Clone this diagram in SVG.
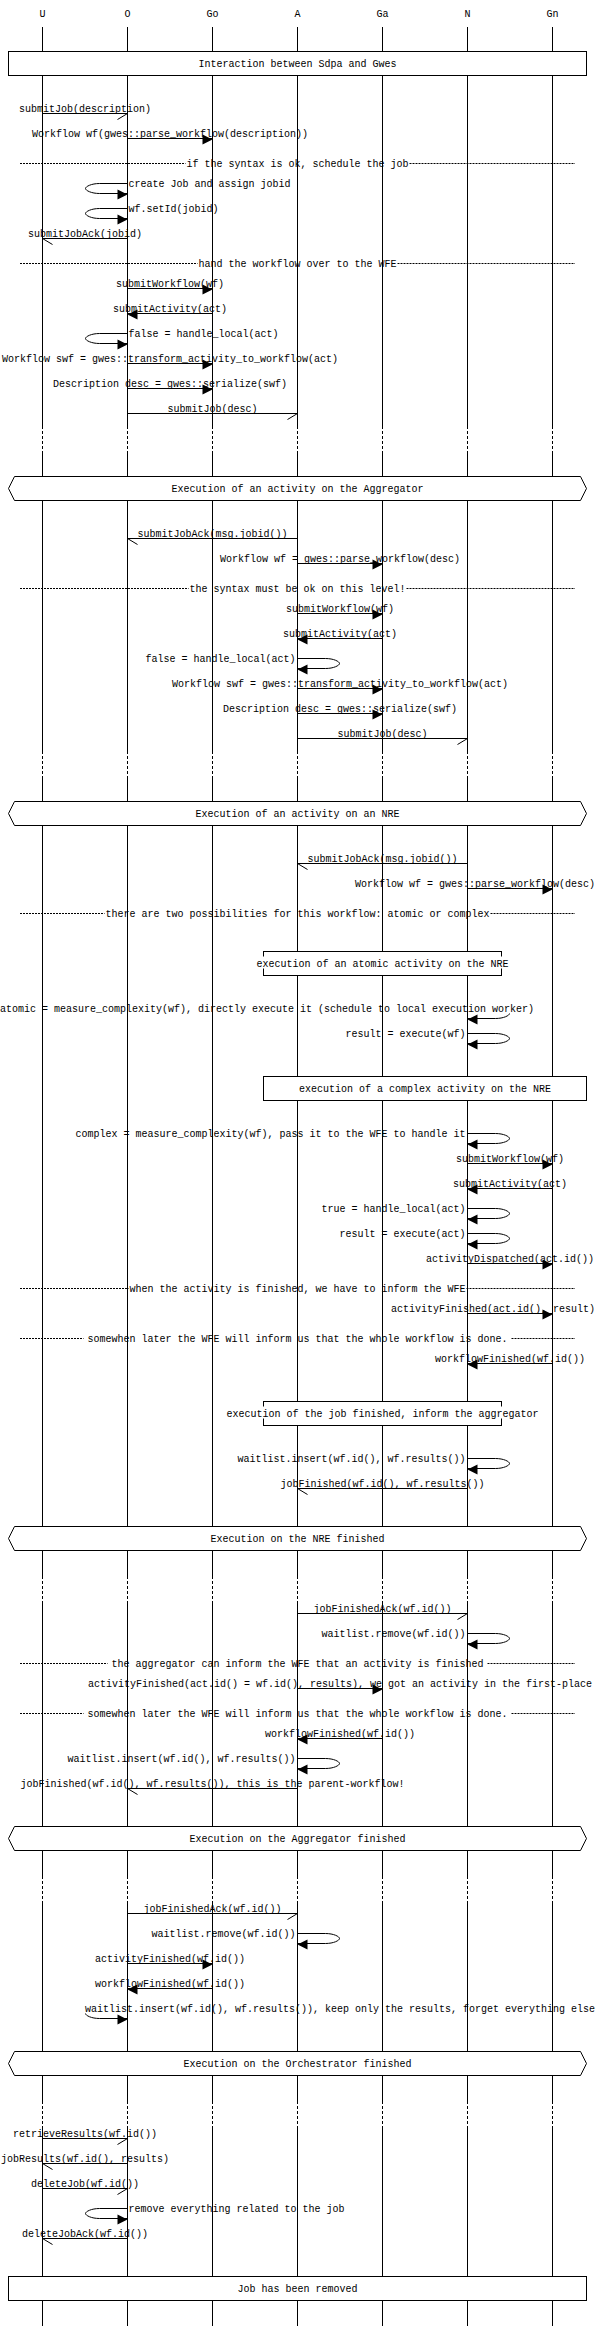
<svg xmlns="http://www.w3.org/2000/svg" width="595" height="2326" viewBox="0 0 595 2326">
<style>
.t{font-family:"Liberation Mono","DejaVu Sans Mono",monospace;font-size:10px;fill:#000}
.m{text-anchor:middle}
.e{text-anchor:end}
.ln{fill:none;stroke:#000;stroke-width:1}
.dl{fill:none;stroke:#000;stroke-width:1;stroke-dasharray:3 2}
.sp{fill:none;stroke:#000;stroke-width:1;stroke-dasharray:2 1}
.bx{fill:#fff;stroke:#000;stroke-width:1}
.hd{fill:#000;stroke:none}
.bg{fill:#fff;stroke:none}
</style>
<defs>
<path id="hr" class="hd" d="M0,1 L-10,-4 L-10,6 Z"/>
<path id="hl" class="hd" d="M0,1 L10,-4 L10,6 Z"/>
<path id="br" class="ln" d="M0,0 L-10,6"/>
<path id="bl" class="ln" d="M0,0 L10,6"/>
<path id="loopR" class="ln" d="M0,-5 H28 C36,-5 42,-2 42,0 C42,2 36,5 28,5 H0"/>
<path id="loopL" class="ln" d="M0,-5 H-28 C-36,-5 -42,-2 -42,0 C-42,2 -36,5 -28,5 H0"/>
<path id="loopRh" class="ln" d="M42,0 C42,2 36,5 28,5 H0"/>
<path id="loopLh" class="ln" d="M-42,0 C-42,2 -36,5 -28,5 H0"/>
</defs>
<rect x="0" y="0" width="595" height="2326" fill="#fff"/>

<g id="lifelines">
<g id="U"><text class="t m" x="42.5" y="17">U</text><path class="ln" d="M42.5,27 V426 M42.5,451 V751 M42.5,776 V1576 M42.5,1601 V1876 M42.5,1901 V2101 M42.5,2126 V2326"/><path class="dl" d="M42.5,426 V451 M42.5,751 V776 M42.5,1576 V1601 M42.5,1876 V1901 M42.5,2101 V2126"/></g>
<g id="O"><text class="t m" x="127.5" y="17">O</text><path class="ln" d="M127.5,27 V426 M127.5,451 V751 M127.5,776 V1576 M127.5,1601 V1876 M127.5,1901 V2101 M127.5,2126 V2326"/><path class="dl" d="M127.5,426 V451 M127.5,751 V776 M127.5,1576 V1601 M127.5,1876 V1901 M127.5,2101 V2126"/></g>
<g id="Go"><text class="t m" x="212.5" y="17">Go</text><path class="ln" d="M212.5,27 V426 M212.5,451 V751 M212.5,776 V1576 M212.5,1601 V1876 M212.5,1901 V2101 M212.5,2126 V2326"/><path class="dl" d="M212.5,426 V451 M212.5,751 V776 M212.5,1576 V1601 M212.5,1876 V1901 M212.5,2101 V2126"/></g>
<g id="A"><text class="t m" x="297.5" y="17">A</text><path class="ln" d="M297.5,27 V426 M297.5,451 V751 M297.5,776 V1576 M297.5,1601 V1876 M297.5,1901 V2101 M297.5,2126 V2326"/><path class="dl" d="M297.5,426 V451 M297.5,751 V776 M297.5,1576 V1601 M297.5,1876 V1901 M297.5,2101 V2126"/></g>
<g id="Ga"><text class="t m" x="382.5" y="17">Ga</text><path class="ln" d="M382.5,27 V426 M382.5,451 V751 M382.5,776 V1576 M382.5,1601 V1876 M382.5,1901 V2101 M382.5,2126 V2326"/><path class="dl" d="M382.5,426 V451 M382.5,751 V776 M382.5,1576 V1601 M382.5,1876 V1901 M382.5,2101 V2126"/></g>
<g id="N"><text class="t m" x="467.5" y="17">N</text><path class="ln" d="M467.5,27 V426 M467.5,451 V751 M467.5,776 V1576 M467.5,1601 V1876 M467.5,1901 V2101 M467.5,2126 V2326"/><path class="dl" d="M467.5,426 V451 M467.5,751 V776 M467.5,1576 V1601 M467.5,1876 V1901 M467.5,2101 V2126"/></g>
<g id="Gn"><text class="t m" x="552.5" y="17">Gn</text><path class="ln" d="M552.5,27 V426 M552.5,451 V751 M552.5,776 V1576 M552.5,1601 V1876 M552.5,1901 V2101 M552.5,2126 V2326"/><path class="dl" d="M552.5,426 V451 M552.5,751 V776 M552.5,1576 V1601 M552.5,1876 V1901 M552.5,2101 V2126"/></g>
</g>

<g id="box-interaction"><rect class="bx" x="8.5" y="51.5" width="578" height="24"/><text class="t m" x="297.5" y="67">Interaction between Sdpa and Gwes</text></g>
<g id="hex-aggregator"><polygon class="bx" points="8.5,488.5 14.5,476.5 580.5,476.5 586.5,488.5 580.5,500.5 14.5,500.5"/><text class="t m" x="297.5" y="492">Execution of an activity on the Aggregator</text></g>
<g id="hex-nre"><polygon class="bx" points="8.5,813.5 14.5,801.5 580.5,801.5 586.5,813.5 580.5,825.5 14.5,825.5"/><text class="t m" x="297.5" y="817">Execution of an activity on an NRE</text></g>
<g id="box-atomic"><rect class="bx" x="263.5" y="951.5" width="238" height="24"/><rect class="bg" x="256.5" y="956.5" width="252" height="12"/><text class="t m" x="382.5" y="967">execution of an atomic activity on the NRE</text></g>
<g id="box-complex"><rect class="bx" x="263.5" y="1076.5" width="323" height="24"/><text class="t m" x="425" y="1092">execution of a complex activity on the NRE</text></g>
<g id="box-jobfinished"><rect class="bx" x="263.5" y="1401.5" width="238" height="24"/><rect class="bg" x="226.5" y="1406.5" width="312" height="12"/><text class="t m" x="382.5" y="1417">execution of the job finished, inform the aggregator</text></g>
<g id="hex-nre-finished"><polygon class="bx" points="8.5,1538.5 14.5,1526.5 580.5,1526.5 586.5,1538.5 580.5,1550.5 14.5,1550.5"/><text class="t m" x="297.5" y="1542">Execution on the NRE finished</text></g>
<g id="hex-aggregator-finished"><polygon class="bx" points="8.5,1838.5 14.5,1826.5 580.5,1826.5 586.5,1838.5 580.5,1850.5 14.5,1850.5"/><text class="t m" x="297.5" y="1842">Execution on the Aggregator finished</text></g>
<g id="hex-orchestrator-finished"><polygon class="bx" points="8.5,2063.5 14.5,2051.5 580.5,2051.5 586.5,2063.5 580.5,2075.5 14.5,2075.5"/><text class="t m" x="297.5" y="2067">Execution on the Orchestrator finished</text></g>
<g id="box-removed"><rect class="bx" x="8.5" y="2276.5" width="578" height="24"/><text class="t m" x="297.5" y="2292">Job has been removed</text></g>

<g id="separators">
<path class="sp" d="M20,163.5 H185.5 M409.5,163.5 H575"/><text class="t m" x="297.5" y="167">if the syntax is ok, schedule the job</text>
<path class="sp" d="M20,263.5 H197.5 M397.5,263.5 H575"/><text class="t m" x="297.5" y="267">hand the workflow over to the WFE</text>
<path class="sp" d="M20,588.5 H188.5 M406.5,588.5 H575"/><text class="t m" x="297.5" y="592">the syntax must be ok on this level!</text>
<path class="sp" d="M20,913.5 H104.5 M490.5,913.5 H575"/><text class="t m" x="297.5" y="917">there are two possibilities for this workflow: atomic or complex</text>
<path class="sp" d="M20,1288.5 H128.5 M466.5,1288.5 H575"/><text class="t m" x="297.5" y="1292">when the activity is finished, we have to inform the WFE</text>
<path class="sp" d="M20,1338.5 H83.5 M511.5,1338.5 H575"/><text class="t m" x="297.5" y="1342">somewhen later the WFE will inform us that the whole workflow is done.</text>
<path class="sp" d="M20,1663.5 H107.5 M487.5,1663.5 H575"/><text class="t m" x="297.5" y="1667">the aggregator can inform the WFE that an activity is finished</text>
<path class="sp" d="M20,1713.5 H83.5 M511.5,1713.5 H575"/><text class="t m" x="297.5" y="1717">somewhen later the WFE will inform us that the whole workflow is done.</text>
</g>

<g id="connectors">
<line class="ln" x1="42.5" y1="113.5" x2="127.5" y2="113.5"/><use href="#br" x="127.5" y="113.5"/>
<line class="ln" x1="127.5" y1="138.5" x2="212.5" y2="138.5"/><use href="#hr" x="212.5" y="138.5"/>
<use href="#loopL" x="127.5" y="188.5"/><use href="#hr" x="127.5" y="193.5"/>
<use href="#loopL" x="127.5" y="213.5"/><use href="#hr" x="127.5" y="218.5"/>
<line class="ln" x1="127.5" y1="238.5" x2="42.5" y2="238.5"/><use href="#bl" x="42.5" y="238.5"/>
<line class="ln" x1="127.5" y1="288.5" x2="212.5" y2="288.5"/><use href="#hr" x="212.5" y="288.5"/>
<line class="ln" x1="212.5" y1="313.5" x2="127.5" y2="313.5"/><use href="#hl" x="127.5" y="313.5"/>
<use href="#loopL" x="127.5" y="338.5"/><use href="#hr" x="127.5" y="343.5"/>
<line class="ln" x1="127.5" y1="363.5" x2="212.5" y2="363.5"/><use href="#hr" x="212.5" y="363.5"/>
<line class="ln" x1="127.5" y1="388.5" x2="212.5" y2="388.5"/><use href="#hr" x="212.5" y="388.5"/>
<line class="ln" x1="127.5" y1="413.5" x2="297.5" y2="413.5"/><use href="#br" x="297.5" y="413.5"/>
<line class="ln" x1="297.5" y1="538.5" x2="127.5" y2="538.5"/><use href="#bl" x="127.5" y="538.5"/>
<line class="ln" x1="297.5" y1="563.5" x2="382.5" y2="563.5"/><use href="#hr" x="382.5" y="563.5"/>
<line class="ln" x1="297.5" y1="613.5" x2="382.5" y2="613.5"/><use href="#hr" x="382.5" y="613.5"/>
<line class="ln" x1="382.5" y1="638.5" x2="297.5" y2="638.5"/><use href="#hl" x="297.5" y="638.5"/>
<use href="#loopR" x="297.5" y="663.5"/><use href="#hl" x="297.5" y="668.5"/>
<line class="ln" x1="297.5" y1="688.5" x2="382.5" y2="688.5"/><use href="#hr" x="382.5" y="688.5"/>
<line class="ln" x1="297.5" y1="713.5" x2="382.5" y2="713.5"/><use href="#hr" x="382.5" y="713.5"/>
<line class="ln" x1="297.5" y1="738.5" x2="467.5" y2="738.5"/><use href="#br" x="467.5" y="738.5"/>
<line class="ln" x1="467.5" y1="863.5" x2="297.5" y2="863.5"/><use href="#bl" x="297.5" y="863.5"/>
<line class="ln" x1="467.5" y1="888.5" x2="552.5" y2="888.5"/><use href="#hr" x="552.5" y="888.5"/>
<use href="#loopRh" x="467.5" y="1013.5"/><use href="#hl" x="467.5" y="1018.5"/>
<use href="#loopR" x="467.5" y="1038.5"/><use href="#hl" x="467.5" y="1043.5"/>
<use href="#loopR" x="467.5" y="1138.5"/><use href="#hl" x="467.5" y="1143.5"/>
<line class="ln" x1="467.5" y1="1163.5" x2="552.5" y2="1163.5"/><use href="#hr" x="552.5" y="1163.5"/>
<line class="ln" x1="552.5" y1="1188.5" x2="467.5" y2="1188.5"/><use href="#hl" x="467.5" y="1188.5"/>
<use href="#loopR" x="467.5" y="1213.5"/><use href="#hl" x="467.5" y="1218.5"/>
<use href="#loopR" x="467.5" y="1238.5"/><use href="#hl" x="467.5" y="1243.5"/>
<line class="ln" x1="467.5" y1="1263.5" x2="552.5" y2="1263.5"/><use href="#hr" x="552.5" y="1263.5"/>
<line class="ln" x1="467.5" y1="1313.5" x2="552.5" y2="1313.5"/><use href="#hr" x="552.5" y="1313.5"/>
<line class="ln" x1="552.5" y1="1363.5" x2="467.5" y2="1363.5"/><use href="#hl" x="467.5" y="1363.5"/>
<use href="#loopR" x="467.5" y="1463.5"/><use href="#hl" x="467.5" y="1468.5"/>
<line class="ln" x1="467.5" y1="1488.5" x2="297.5" y2="1488.5"/><use href="#bl" x="297.5" y="1488.5"/>
<line class="ln" x1="297.5" y1="1613.5" x2="467.5" y2="1613.5"/><use href="#br" x="467.5" y="1613.5"/>
<use href="#loopR" x="467.5" y="1638.5"/><use href="#hl" x="467.5" y="1643.5"/>
<line class="ln" x1="297.5" y1="1688.5" x2="382.5" y2="1688.5"/><use href="#hr" x="382.5" y="1688.5"/>
<line class="ln" x1="382.5" y1="1738.5" x2="297.5" y2="1738.5"/><use href="#hl" x="297.5" y="1738.5"/>
<use href="#loopR" x="297.5" y="1763.5"/><use href="#hl" x="297.5" y="1768.5"/>
<line class="ln" x1="297.5" y1="1788.5" x2="127.5" y2="1788.5"/><use href="#bl" x="127.5" y="1788.5"/>
<line class="ln" x1="127.5" y1="1913.5" x2="297.5" y2="1913.5"/><use href="#br" x="297.5" y="1913.5"/>
<use href="#loopR" x="297.5" y="1938.5"/><use href="#hl" x="297.5" y="1943.5"/>
<line class="ln" x1="127.5" y1="1963.5" x2="212.5" y2="1963.5"/><use href="#hr" x="212.5" y="1963.5"/>
<line class="ln" x1="212.5" y1="1988.5" x2="127.5" y2="1988.5"/><use href="#hl" x="127.5" y="1988.5"/>
<use href="#loopLh" x="127.5" y="2013.5"/><use href="#hr" x="127.5" y="2018.5"/>
<line class="ln" x1="42.5" y1="2138.5" x2="127.5" y2="2138.5"/><use href="#br" x="127.5" y="2138.5"/>
<line class="ln" x1="127.5" y1="2163.5" x2="42.5" y2="2163.5"/><use href="#bl" x="42.5" y="2163.5"/>
<line class="ln" x1="42.5" y1="2188.5" x2="127.5" y2="2188.5"/><use href="#br" x="127.5" y="2188.5"/>
<use href="#loopL" x="127.5" y="2213.5"/><use href="#hr" x="127.5" y="2218.5"/>
<line class="ln" x1="127.5" y1="2238.5" x2="42.5" y2="2238.5"/><use href="#bl" x="42.5" y="2238.5"/>
</g>

<g id="labels">
<text class="t m" x="85" y="111.5">submitJob(description)</text>
<text class="t m" x="170" y="136.5">Workflow wf(gwes::parse_workflow(description))</text>
<text class="t" x="128.5" y="186.5">create Job and assign jobid</text>
<text class="t" x="128.5" y="211.5">wf.setId(jobid)</text>
<text class="t m" x="85" y="236.5">submitJobAck(jobid)</text>
<text class="t m" x="170" y="286.5">submitWorkflow(wf)</text>
<text class="t m" x="170" y="311.5">submitActivity(act)</text>
<text class="t" x="128.5" y="336.5">false = handle_local(act)</text>
<text class="t m" x="170" y="361.5">Workflow swf = gwes::transform_activity_to_workflow(act)</text>
<text class="t m" x="170" y="386.5">Description desc = gwes::serialize(swf)</text>
<text class="t m" x="212.5" y="411.5">submitJob(desc)</text>
<text class="t m" x="212.5" y="536.5">submitJobAck(msg.jobid())</text>
<text class="t m" x="340" y="561.5">Workflow wf = gwes::parse_workflow(desc)</text>
<text class="t m" x="340" y="611.5">submitWorkflow(wf)</text>
<text class="t m" x="340" y="636.5">submitActivity(act)</text>
<text class="t e" x="295.5" y="661.5">false = handle_local(act)</text>
<text class="t m" x="340" y="686.5">Workflow swf = gwes::transform_activity_to_workflow(act)</text>
<text class="t m" x="340" y="711.5">Description desc = gwes::serialize(swf)</text>
<text class="t m" x="382.5" y="736.5">submitJob(desc)</text>
<text class="t m" x="382.5" y="861.5">submitJobAck(msg.jobid())</text>
<text class="t e" x="595" y="886.5">Workflow wf = gwes::parse_workflow(desc)</text>
<text class="t" x="0" y="1011.5">atomic = measure_complexity(wf), directly execute it (schedule to local execution worker)</text>
<text class="t e" x="465.5" y="1036.5">result = execute(wf)</text>
<text class="t e" x="465.5" y="1136.5">complex = measure_complexity(wf), pass it to the WFE to handle it</text>
<text class="t m" x="510" y="1161.5">submitWorkflow(wf)</text>
<text class="t m" x="510" y="1186.5">submitActivity(act)</text>
<text class="t e" x="465.5" y="1211.5">true = handle_local(act)</text>
<text class="t e" x="465.5" y="1236.5">result = execute(act)</text>
<text class="t m" x="510" y="1261.5">activityDispatched(act.id())</text>
<text class="t e" x="595" y="1311.5">activityFinished(act.id(), result)</text>
<text class="t m" x="510" y="1361.5">workflowFinished(wf.id())</text>
<text class="t e" x="465.5" y="1461.5">waitlist.insert(wf.id(), wf.results())</text>
<text class="t m" x="382.5" y="1486.5">jobFinished(wf.id(), wf.results())</text>
<text class="t m" x="382.5" y="1611.5">jobFinishedAck(wf.id())</text>
<text class="t e" x="465.5" y="1636.5">waitlist.remove(wf.id())</text>
<text class="t m" x="340" y="1686.5">activityFinished(act.id() = wf.id(), results), we got an activity in the first-place</text>
<text class="t m" x="340" y="1736.5">workflowFinished(wf.id())</text>
<text class="t e" x="295.5" y="1761.5">waitlist.insert(wf.id(), wf.results())</text>
<text class="t m" x="212.5" y="1786.5">jobFinished(wf.id(), wf.results()), this is the parent-workflow!</text>
<text class="t m" x="212.5" y="1911.5">jobFinishedAck(wf.id())</text>
<text class="t e" x="295.5" y="1936.5">waitlist.remove(wf.id())</text>
<text class="t m" x="170" y="1961.5">activityFinished(wf.id())</text>
<text class="t m" x="170" y="1986.5">workflowFinished(wf.id())</text>
<text class="t e" x="595" y="2011.5">waitlist.insert(wf.id(), wf.results()), keep only the results, forget everything else</text>
<text class="t m" x="85" y="2136.5">retrieveResults(wf.id())</text>
<text class="t m" x="85" y="2161.5">jobResults(wf.id(), results)</text>
<text class="t m" x="85" y="2186.5">deleteJob(wf.id())</text>
<text class="t" x="128.5" y="2211.5">remove everything related to the job</text>
<text class="t m" x="85" y="2236.5">deleteJobAck(wf.id())</text>
</g>
</svg>
